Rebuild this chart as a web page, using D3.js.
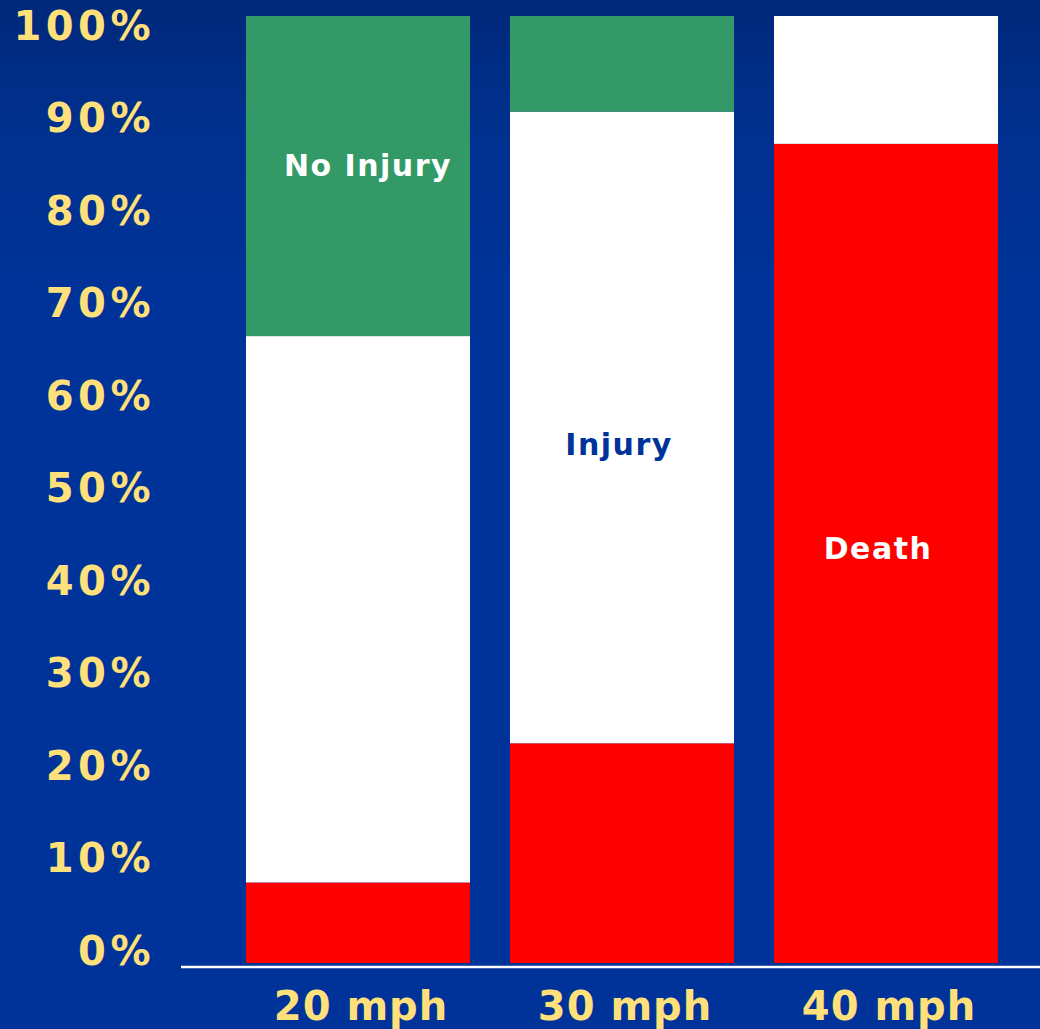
<!DOCTYPE html>
<html>
<head>
<meta charset="utf-8">
<script src="https://cdn.jsdelivr.net/npm/d3@7"></script>
<style>
  html, body { margin: 0; padding: 0; background: #003399; }
  svg { display: block; }
</style>
</head>
<body>
<div id="chart"></div>
<script>
'use strict'

/*
 Data (percent of crashes)
*/
let speeds = ["20 mph", "30 mph", "40 mph"]
let outcomes = ["Death", "Injury", "No Injury"]
let death = [8.5, 23.2, 86.5]
let injury = [57.7, 66.7, 13.5]
let noInjury = [33.8, 10.1, 0]
let tickValues = [0, 10, 20, 30, 40, 50, 60, 70, 80, 90, 100]

// in-bar labels: which bar, and the height (in %) of the text baseline
let labelBar = ["20 mph", "30 mph", "40 mph"]
let labelText = ["No Injury", "Injury", "Death"]
let labelAt = [83.1, 53.6, 42.7]

let width = 1040
let height = 1029
let customColors = {
  "Death": "#ff0000",
  "Injury": "#ffffff",
  "No Injury": "#339966"
}
let labelColors = ["#ffffff", "#003399", "#ffffff"]
let labelShift = [10, -3, -8]
let yellow = "#ffe07a"

let rows = speeds.map(function (s, i) {
  return { speed: s, "Death": death[i], "Injury": injury[i], "No Injury": noInjury[i] }
})

let xscale = d3.scaleBand()
  .domain(speeds)
  .range([226, 1018])
  .paddingInner(40 / 264)
  .paddingOuter(20 / 264)

let yscale = d3.scaleLinear()
  .domain([0, 100])
  .range([963, 16])

// tick labels sit on their own spacing in the original slide
let ylabels = d3.scaleLinear()
  .domain([0, 100])
  .range([950, 25])

let svg = d3.select("#chart").append("svg")
  .attr("width", width)
  .attr("height", height)

let defs = svg.append("defs")
let grad = defs.append("linearGradient")
  .attr("id", "bg")
  .attr("x1", 0).attr("y1", 0).attr("x2", 0).attr("y2", 1)
grad.append("stop").attr("offset", "0%").attr("stop-color", "#00287a")
grad.append("stop").attr("offset", "14%").attr("stop-color", "#003190")
grad.append("stop").attr("offset", "30%").attr("stop-color", "#003399")
grad.append("stop").attr("offset", "100%").attr("stop-color", "#003399")

svg.append("rect")
  .attr("width", width)
  .attr("height", height)
  .attr("fill", "url(#bg)")

let stack = d3.stack().keys(outcomes)(rows)

svg.append("g")
  .selectAll("g")
  .data(stack)
  .enter()
  .append("g")
  .attr("fill", function (d) { return customColors[d.key] })
  .selectAll("rect")
  .data(function (d) { return d })
  .enter()
  .append("rect")
  .attr("x", function (d) { return xscale(d.data.speed) })
  .attr("y", function (d) { return yscale(d[1]) })
  .attr("width", xscale.bandwidth())
  .attr("height", function (d) { return yscale(d[0]) - yscale(d[1]) })

// base line
svg.append("line")
  .attr("x1", 181)
  .attr("x2", width)
  .attr("y1", yscale(0) + 4)
  .attr("y2", yscale(0) + 4)
  .attr("stroke", "#ffffff")
  .attr("stroke-width", 2.5)

// y axis labels
let yAxis = d3.axisLeft(ylabels)
  .tickValues(tickValues)
  .tickFormat(function (d) { return d + "%" })
  .tickSize(0)
  .tickPadding(0)

let gy = svg.append("g")
  .attr("transform", "translate(155,0)")
  .call(yAxis)
gy.select(".domain").remove()
gy.selectAll("text")
  .attr("fill", yellow)
  .attr("dy", "0.36em")
  .style("font-family", "'DejaVu Sans', Verdana, sans-serif")
  .style("font-weight", "bold")
  .style("font-size", "40px")
  .style("letter-spacing", "4.5px")

// x axis labels
let xAxis = d3.axisBottom(xscale)
  .tickSize(0)
  .tickPadding(0)

let gx = svg.append("g")
  .attr("transform", "translate(3,1020)")
  .call(xAxis)
gx.select(".domain").remove()
gx.selectAll("text")
  .attr("fill", yellow)
  .attr("dy", 0)
  .style("font-family", "'DejaVu Sans', Verdana, sans-serif")
  .style("font-weight", "bold")
  .style("font-size", "40px")
  .style("letter-spacing", "1px")

// labels inside the bars
svg.append("g")
  .selectAll("text")
  .data(labelText)
  .enter()
  .append("text")
  .attr("x", function (d, i) { return xscale(labelBar[i]) + xscale.bandwidth() / 2 + labelShift[i] })
  .attr("y", function (d, i) { return yscale(labelAt[i]) })
  .attr("text-anchor", "middle")
  .attr("fill", function (d, i) { return labelColors[i] })
  .style("font-family", "'DejaVu Sans', Verdana, sans-serif")
  .style("font-weight", "bold")
  .style("font-size", "30px")
  .style("letter-spacing", "1.5px")
  .text(function (d) { return d })
</script>
</body>
</html>
